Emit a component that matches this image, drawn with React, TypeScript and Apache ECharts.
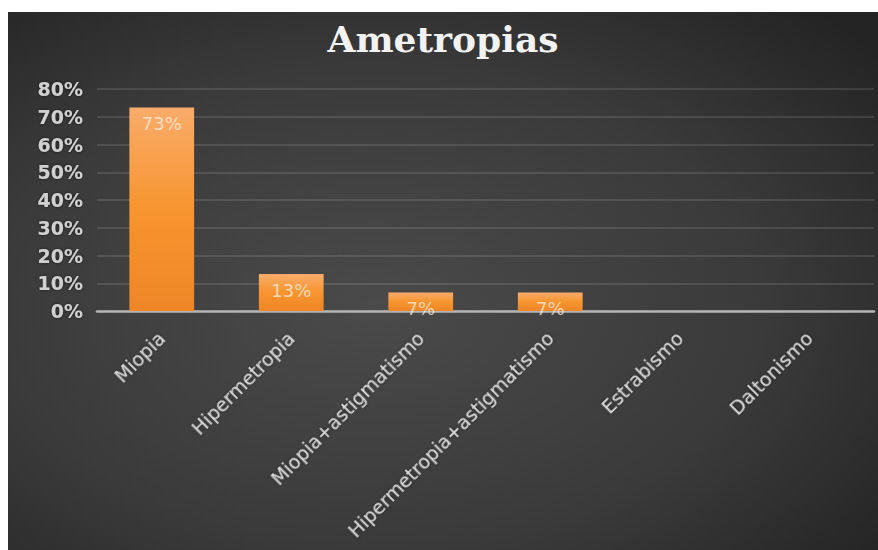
import React, { useEffect, useRef } from "react";
import * as echarts from "echarts";

const titleText = "Ametropias";
const categories = [
  "Miopia",
  "Hipermetropia",
  "Miopia+astigmatismo",
  "Hipermetropia+astigmatismo",
  "Estrabismo",
  "Daltonismo",
];
const values = [73.3, 13.3, 6.7, 6.7, 0, 0];
const yMin = 0;
const yMax = 80;
const yInterval = 10;

export default function App() {
  const ref = useRef<HTMLDivElement>(null);
  useEffect(() => {
    if (!ref.current) return;
    const chart = echarts.init(ref.current, undefined, { renderer: "svg" });
    chart.setOption({
      animation: false,
      backgroundColor: {
        type: "radial",
        x: 0.42,
        y: 0.55,
        r: 0.75,
        colorStops: [
          { offset: 0, color: "#4a4a4a" },
          { offset: 0.6, color: "#3a3a3a" },
          { offset: 1, color: "#242424" },
        ],
      },
      title: {
        text: titleText,
        left: "center",
        top: 4,
        textStyle: {
          fontFamily: "DejaVu Serif",
          fontWeight: "bold",
          fontSize: 36,
          color: "#f2f2f2",
        },
      },
      grid: {
        left: 89,
        right: 4,
        top: 77,
        bottom: 239,
        containLabel: false,
        outerBoundsMode: "none",
      },
      xAxis: {
        type: "category",
        data: categories,
        axisLine: { show: true, lineStyle: { color: "#b4b4b4", width: 2.5 } },
        axisTick: { show: false },
        axisLabel: {
          interval: 0,
          rotate: 45,
          margin: 24,
          fontFamily: "DejaVu Sans",
          fontSize: 19,
          color: "#dcdcdc",
          textShadowColor: "rgba(0,0,0,0.6)",
          textShadowBlur: 3,
        },
      },
      yAxis: {
        type: "value",
        min: yMin,
        max: yMax,
        interval: yInterval,
        axisLine: { show: false },
        axisTick: { show: false },
        splitLine: { lineStyle: { color: "rgba(255,255,255,0.15)", width: 1.5 } },
        axisLabel: {
          formatter: "{value}%",
          margin: 14,
          fontFamily: "DejaVu Sans",
          fontWeight: "bold",
          fontSize: 19,
          color: "#d0d0d0",
          textShadowColor: "rgba(0,0,0,0.6)",
          textShadowBlur: 3,
        },
      },
      series: [
        {
          type: "bar",
          data: values,
          barWidth: "50%",
          itemStyle: {
            color: {
              type: "linear",
              x: 0,
              y: 0,
              x2: 0,
              y2: 1,
              colorStops: [
                { offset: 0, color: "#f9ac6a" },
                { offset: 0.5, color: "#f7952f" },
                { offset: 1, color: "#ee8627" },
              ],
            },
          },
          label: {
            show: true,
            position: "insideTop",
            distance: 7,
            formatter: (p: any) => (p.value > 0 ? Math.round(p.value) + "%" : ""),
            fontFamily: "DejaVu Sans",
            fontSize: 18,
            color: "rgba(255,240,225,0.75)",
          },
        },
      ],
    });
    return () => chart.dispose();
  }, []);
  return (
    <div
      ref={ref}
      style={{ position: "absolute", left: 8, top: 12, width: 870, height: 538 }}
    />
  );
}
